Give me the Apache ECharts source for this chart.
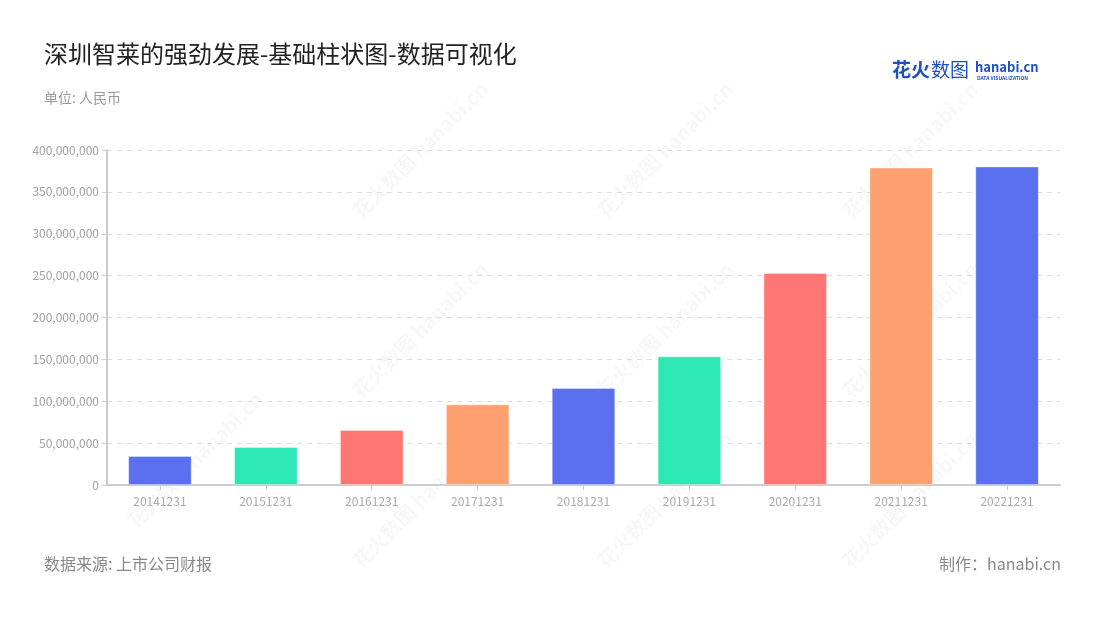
<!DOCTYPE html>
<html><head><meta charset="utf-8">
<script src="https://cdn.jsdelivr.net/npm/echarts@6/dist/echarts.min.js"></script>
<style>html,body{margin:0;padding:0;background:#fff}#c{width:1100px;height:620px}</style>
</head><body><div id="c"></div>
<script>
const categories = ['20141231','20151231','20161231','20171231','20181231','20191231','20201231','20211231','20221231'];
const values = [34600000, 45400000, 65700000, 96300000, 115800000, 153600000, 253100000, 379100000, 380300000];
const colors = ['#5a70ef','#2de8b3','#ff7672','#ffa070'];
const yTicks = {min:0, max:400000000, interval:50000000};
const FONT = '"Noto Sans CJK SC","Noto Sans",sans-serif';

const chart = echarts.init(document.getElementById('c'), null, {renderer:'canvas'});

const wm = [];
const wmPos = [[420,150],[665,150],[910,150],[420,330],[665,330],[910,330],[195,460],[420,500],[665,500],[910,500]];
wmPos.forEach(p => {
  wm.push({type:'text', x:p[0], y:p[1], rotation:Math.PI/4, silent:true, z:-1,
    style:{text:'花火数图 hanabi.cn', font:'bold 20px '+FONT, fill:'rgba(0,0,0,0.03)', align:'center', verticalAlign:'middle'}});
});

chart.setOption({
  animation:false,
  textStyle:{fontFamily:FONT},
  title:[
    {text:'深圳智莱的强劲发展-基础柱状图-数据可视化', left:39, top:37, textStyle:{fontSize:24, fontWeight:'normal', color:'#222', fontFamily:FONT}},
    {text:'单位: 人民币', left:39, top:86, textStyle:{fontSize:14, fontWeight:'normal', color:'#999', fontFamily:FONT}}
  ],
  grid:{left:107, right:40, top:150, bottom:135, containLabel:false},
  xAxis:{type:'category', data:categories,
    axisLine:{lineStyle:{color:'#ccc', width:2}},
    axisTick:{show:true, alignWithLabel:true, lineStyle:{color:'#ccc'}},
    axisLabel:{color:'#aaa', fontSize:12, margin:10, fontFamily:FONT}},
  yAxis:{type:'value', min:yTicks.min, max:yTicks.max, interval:yTicks.interval,
    axisLine:{show:true, lineStyle:{color:'#ccc', width:2}},
    axisTick:{show:true, length:5, lineStyle:{color:'#ccc'}},
    axisLabel:{color:'#a0a0a0', fontSize:12, margin:8, fontFamily:FONT,
      formatter:v => v.toLocaleString('en-US')},
    splitLine:{lineStyle:{color:'#ddd', type:[5,5]}}},
  series:[{type:'bar', data:values, barWidth:'60%',
    itemStyle:{color:p => colors[p.dataIndex % colors.length], borderWidth:1,
      borderColor:'rgba(255,255,255,0.35)'}}],
  graphic:wm.concat([
    {type:'text', left:44, top:556, style:{text:'数据来源: 上市公司财报', font:'16px '+FONT, fill:'#888'}},
    {type:'text', right:39, top:556, style:{text:'制作：hanabi.cn', font:'16px '+FONT, fill:'#888'}},
    {type:'text', left:892, top:60, style:{text:'花火', font:'bold 19px '+FONT, fill:'#1f4fc0'}},
    {type:'text', left:931, top:60, style:{text:'数图', font:'19px '+FONT, fill:'#1f4fc0'}},
    {type:'text', left:975, top:61, style:{text:'hanabi.cn', font:'bold 13px '+FONT, fill:'#1f4fc0'}},
    {type:'text', left:977, top:76, style:{text:'DATA VISUALIZATION', font:'bold 5px '+FONT, fill:'#1f4fc0'}}
  ])
});
</script></body></html>
